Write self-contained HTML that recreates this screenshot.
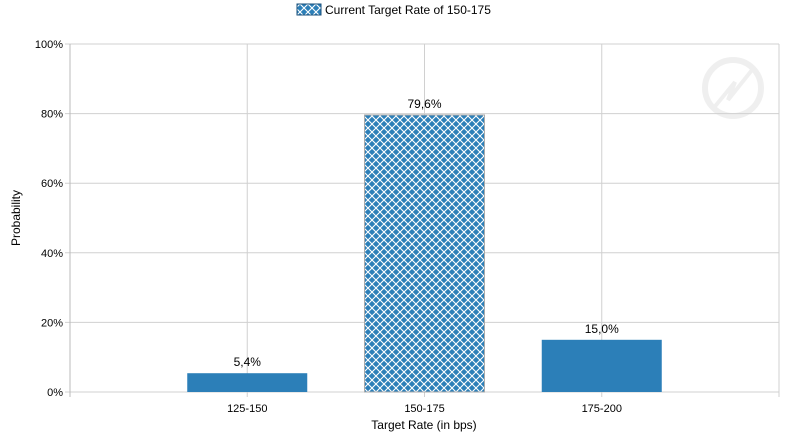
<!DOCTYPE html>
<html><head><meta charset="utf-8"><style>
body{margin:0;background:#fff;}
svg{display:block;font-family:"Liberation Sans",sans-serif;}
</style></head><body>
<svg id="chart" width="790" height="442">
<defs>
<pattern id="hatch" width="8" height="8" patternUnits="userSpaceOnUse">
<rect width="8" height="8" fill="#2c7fb8"/>
<path d="M0,0 L8,8 M8,0 L0,8" stroke="#fff" stroke-width="1.1"/>
</pattern>
</defs>
<g>
<rect x="297" y="4" width="24" height="11" fill="url(#hatch)" stroke="#1a4f7a" stroke-width="1"/>
<text x="325" y="14" font-size="12" fill="#000">Current Target Rate of 150-175</text>
</g>
<g opacity="0.15">
<circle cx="733" cy="88" r="28" fill="none" stroke="#999" stroke-width="6"/>
<path d="M712,110 L735,82 L728,100 L752,70" stroke="#999" stroke-width="4" fill="none"/>
</g>
<g id="grid"></g>
<g id="bars"></g>
<g id="labels"></g>
<text x="20" y="218" font-size="12" transform="rotate(-90 20 218)" text-anchor="middle">Probability</text>
<text x="424" y="429" font-size="12" text-anchor="middle">Target Rate (in bps)</text>
</svg>
<script>
const categories = ["125-150","150-175","175-200"];
const values = [5.4, 79.6, 15.0];
const current = [false, true, false];
const yTicks = [0,20,40,60,80,100];
const ns="http://www.w3.org/2000/svg";
const L=70,R=779,T=44,B=392;
const x=i=>L+(R-L)/4*(i+1);
const y=v=>B-(B-T)*v/100;
function mk(tag,attrs,parent){const e=document.createElementNS(ns,tag);for(const k in attrs)e.setAttribute(k,attrs[k]);parent.appendChild(e);return e;}
const grid=document.getElementById('grid'),bars=document.getElementById('bars'),labels=document.getElementById('labels');
yTicks.forEach(t=>{
 const g=mk('line',{x1:L-5,x2:R,y1:y(t),y2:y(t),stroke:'#d0d0d0'},grid);
 
 
 const tx=mk('text',{x:L-7,y:y(t)+4,'font-size':11,'text-anchor':'end'},grid);
 tx.textContent=t+'%';
 
 
});
[0,1,2,3,4].forEach(i=>{
 const xx=L+(R-L)/4*i;
 const l=mk('line',{x1:xx,x2:xx,y1:T,y2:B+5,stroke:i===0?'#bbb':'#d0d0d0'},grid);
 
 
});
categories.forEach((c,i)=>{
 const cx=x(i),w=120;
 const r=mk('rect',{x:cx-w/2,y:y(values[i]),width:w,height:B-y(values[i]),fill:current[i]?'url(#hatch)':'#2c7fb8',stroke:current[i]?'#aaa':'none'},bars);
 
 
 const v=mk('text',{x:cx,y:y(values[i])-7,'font-size':12,'text-anchor':'middle'},labels);
 v.textContent=values[i].toFixed(1).replace('.',',')+'%';
 
 
 const t=mk('text',{x:cx,y:B+20,'font-size':11,'text-anchor':'middle'},labels);
 t.textContent=c;
 
 
});
</script>
</body></html>
